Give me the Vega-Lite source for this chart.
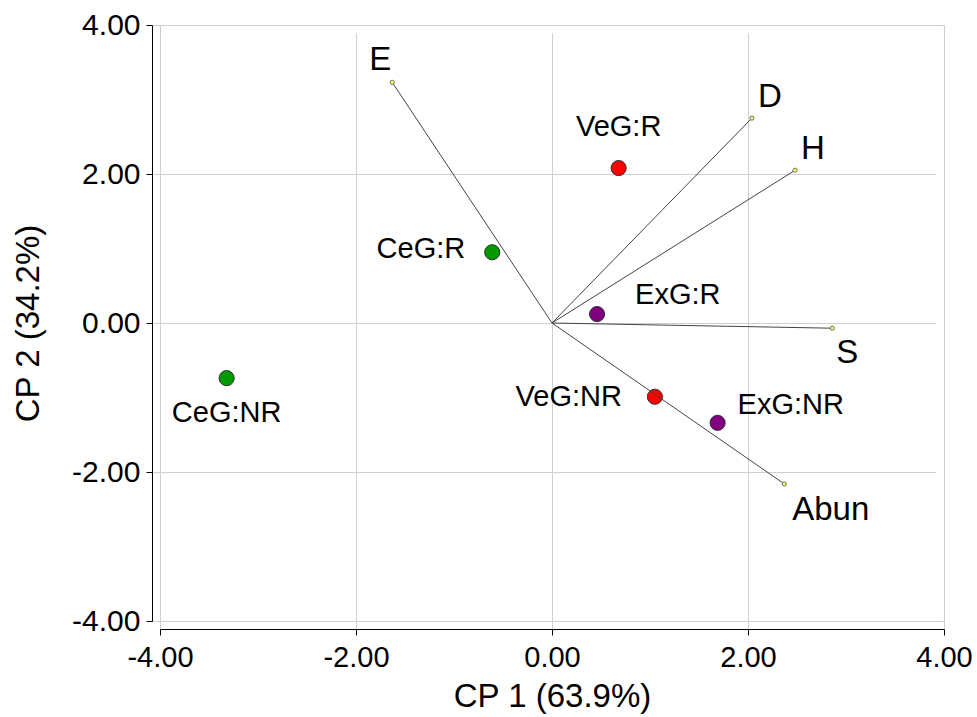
{
  "$schema": "https://vega.github.io/schema/vega-lite/v6.json",
  "width": 784,
  "height": 596,
  "autosize": "none",
  "padding": {"left": 160, "top": 25, "right": 33, "bottom": 96},
  "config": {
    "font": "Liberation Sans",
    "view": {"stroke": "#cccccc"},
    "axis": {
      "grid": true,
      "gridColor": "#cfcfcf",
      "domainColor": "#000000",
      "tickColor": "#000000",
      "labelColor": "#000000",
      "titleColor": "#000000",
      "labelFont": "Liberation Sans",
      "titleFont": "Liberation Sans",
      "titleFontSize": 33,
      "titleFontWeight": "normal",
      "offset": 8,
      "tickSize": 6,
      "labelFlush": false,
      "labelOverlap": false
    },
    "axisX": {"labelPadding": 8, "titlePadding": 8, "labelFontSize": 29},
    "axisY": {"labelPadding": 6, "titlePadding": 26, "labelFontSize": 30}
  },
  "datasets": {
    "scores": [
      {"name": "VeG:R", "group": "VeG", "x": 0.68, "y": 2.08},
      {"name": "CeG:R", "group": "CeG", "x": -0.61, "y": 0.95},
      {"name": "ExG:R", "group": "ExG", "x": 0.46, "y": 0.12},
      {"name": "CeG:NR", "group": "CeG", "x": -3.32, "y": -0.74},
      {"name": "VeG:NR", "group": "VeG", "x": 1.05, "y": -0.99},
      {"name": "ExG:NR", "group": "ExG", "x": 1.69, "y": -1.34}
    ],
    "loadings": [
      {"name": "E", "x": -1.63, "y": 3.23},
      {"name": "D", "x": 2.04, "y": 2.75},
      {"name": "H", "x": 2.48, "y": 2.05},
      {"name": "S", "x": 2.86, "y": -0.07},
      {"name": "Abun", "x": 2.37, "y": -2.16}
    ]
  },
  "encoding": {
    "x": {"field": "x", "type": "quantitative", "scale": {"domain": [-4, 4], "nice": false, "zero": false}, "axis": {"title": "CP 1 (63.9%)", "values": [-4, -2, 0, 2, 4], "labelExpr": "replace(format(datum.value, '.2f'), '\u2212', '-')"}},
    "y": {"field": "y", "type": "quantitative", "scale": {"domain": [-4, 4], "nice": false, "zero": false}, "axis": {"title": "CP 2 (34.2%)", "values": [-4, -2, 0, 2, 4], "labelExpr": "replace(format(datum.value, '.2f'), '\u2212', '-')"}}
  },
  "layer": [
    {
      "data": {"name": "scores"},
      "mark": {"type": "point", "shape": "circle", "filled": true, "size": 230, "stroke": "#333333", "strokeWidth": 1, "opacity": 1},
      "encoding": {
        "color": {"field": "group", "type": "nominal", "scale": {"domain": ["VeG", "CeG", "ExG"], "range": ["#ff0000", "#009900", "#800080"]}, "legend": null}
      }
    },
    {
      "data": {"name": "loadings"},
      "mark": {"type": "rule", "color": "#444444", "strokeWidth": 1},
      "encoding": {
        "x2": {"datum": 0},
        "y2": {"datum": 0}
      }
    },
    {
      "data": {"name": "loadings"},
      "mark": {"type": "point", "shape": "circle", "filled": true, "size": 18, "fill": "#f5f56a", "stroke": "#555555", "strokeWidth": 0.8, "opacity": 1},
      "encoding": {}
    },
    {
      "data": {"name": "scores"},
      "transform": [{"filter": "datum.name === 'VeG:R'"}],
      "mark": {"type": "text", "fontSize": 29, "align": "center", "baseline": "middle", "dy": -41, "color": "#000000"},
      "encoding": {"text": {"field": "name"}}
    },
    {
      "data": {"name": "scores"},
      "transform": [{"filter": "datum.name === 'CeG:NR'"}],
      "mark": {"type": "text", "fontSize": 29, "align": "center", "baseline": "middle", "dy": 35, "color": "#000000"},
      "encoding": {"text": {"field": "name"}}
    },
    {
      "data": {"name": "scores"},
      "transform": [{"filter": "datum.name === 'CeG:R'"}],
      "mark": {"type": "text", "fontSize": 29, "align": "right", "baseline": "middle", "dx": -27, "dy": -3, "color": "#000000"},
      "encoding": {"text": {"field": "name"}}
    },
    {
      "data": {"name": "scores"},
      "transform": [{"filter": "datum.name === 'VeG:NR'"}],
      "mark": {"type": "text", "fontSize": 29, "align": "right", "baseline": "middle", "dx": -33, "dy": 0, "color": "#000000"},
      "encoding": {"text": {"field": "name"}}
    },
    {
      "data": {"name": "scores"},
      "transform": [{"filter": "datum.name === 'ExG:R'"}],
      "mark": {"type": "text", "fontSize": 29, "align": "left", "baseline": "middle", "dx": 38, "dy": -19, "color": "#000000"},
      "encoding": {"text": {"field": "name"}}
    },
    {
      "data": {"name": "scores"},
      "transform": [{"filter": "datum.name === 'ExG:NR'"}],
      "mark": {"type": "text", "fontSize": 29, "align": "left", "baseline": "middle", "dx": 20, "dy": -18, "color": "#000000"},
      "encoding": {"text": {"field": "name"}}
    },
    {
      "data": {"name": "loadings"},
      "transform": [{"filter": "datum.name === 'E'"}],
      "mark": {"type": "text", "fontSize": 33, "align": "center", "baseline": "middle", "dx": -12, "dy": -22, "color": "#000000"},
      "encoding": {"text": {"field": "name"}}
    },
    {
      "data": {"name": "loadings"},
      "transform": [{"filter": "datum.name === 'D' || datum.name === 'H'"}],
      "mark": {"type": "text", "fontSize": 33, "align": "center", "baseline": "middle", "dx": 18, "dy": -21, "color": "#000000"},
      "encoding": {"text": {"field": "name"}}
    },
    {
      "data": {"name": "loadings"},
      "transform": [{"filter": "datum.name === 'S'"}],
      "mark": {"type": "text", "fontSize": 33, "align": "center", "baseline": "middle", "dx": 15, "dy": 25, "color": "#000000"},
      "encoding": {"text": {"field": "name"}}
    },
    {
      "data": {"name": "loadings"},
      "transform": [{"filter": "datum.name === 'Abun'"}],
      "mark": {"type": "text", "fontSize": 33, "align": "left", "baseline": "middle", "dx": 8, "dy": 26, "color": "#000000"},
      "encoding": {"text": {"field": "name"}}
    }
  ]
}
